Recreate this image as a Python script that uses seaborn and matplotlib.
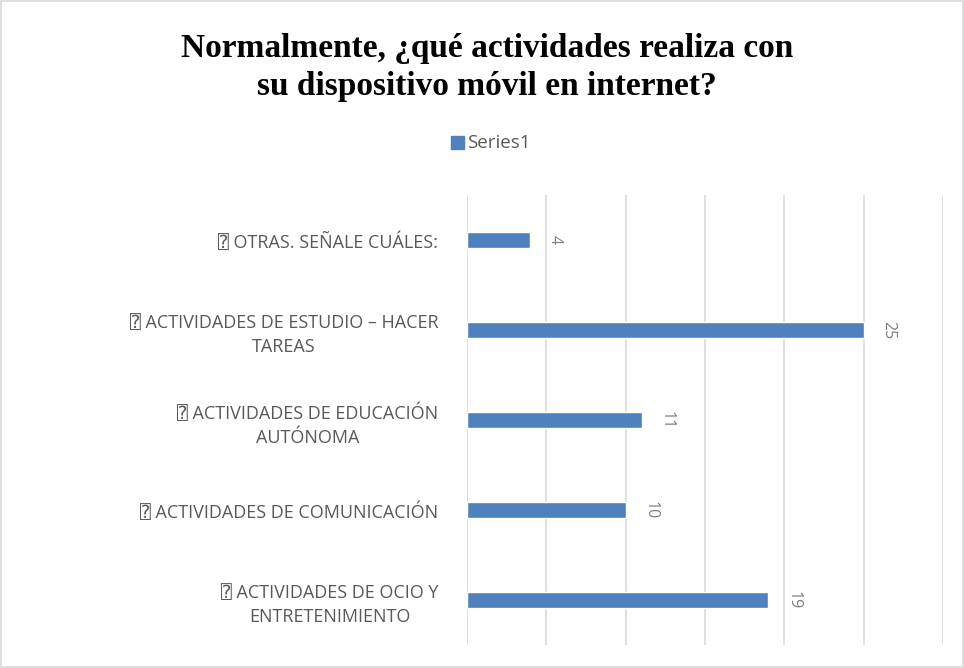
import matplotlib
matplotlib.use("Agg")
import matplotlib.pyplot as plt
import seaborn as sns
import pandas as pd
from matplotlib.patches import Rectangle

# Datos del gráfico (de arriba hacia abajo)
categorias = [
    "⍰ OTRAS. SEÑALE CUÁLES:",
    "⍰ ACTIVIDADES DE ESTUDIO – HACER\nTAREAS",
    "⍰ ACTIVIDADES DE EDUCACIÓN\nAUTÓNOMA",
    "⍰ ACTIVIDADES DE COMUNICACIÓN",
    "⍰ ACTIVIDADES DE OCIO Y\nENTRETENIMIENTO",
]
valores = [4, 25, 11, 10, 19]
serie = "Series1"
titulo = "Normalmente, ¿qué actividades realiza con\nsu dispositivo móvil en internet?"

azul = "#4F81BD"
gris_txt = "#595959"

sns.set_style("white")
plt.rcParams['font.family'] = ['Open Sans', 'DejaVu Sans', 'DejaVu Sans Mono']

df = pd.DataFrame({"categoria": categorias, "valor": valores})

fig = plt.figure(figsize=(9.64, 6.68), dpi=100)
ax = fig.add_axes([0.4844, 0.0344, 0.4938, 0.6736])

sns.barplot(data=df, x="valor", y="categoria", orient="h", color=azul,
            width=0.185, saturation=1, ax=ax)

ax.set_xlim(0, 30)
ax.set_ylim(4.5, -0.5)
ax.set_xticks(range(0, 31, 5))
ax.xaxis.grid(True, color="#D9D9D9", linewidth=1.2)
ax.set_axisbelow(True)
ax.tick_params(axis="x", bottom=False, labelbottom=False)
ax.tick_params(axis="y", left=False, pad=17)
for s in ax.spines.values():
    s.set_visible(False)
ax.set_xlabel("")
ax.set_ylabel("")

for lbl in ax.get_yticklabels():
    lbl.set_fontsize(13)
    lbl.set_color(gris_txt)
    lbl.set_multialignment("center")
    lbl.set_linespacing(1.45)

ax.bar_label(ax.containers[0], labels=[str(v) for v in valores], rotation=-90,
             padding=12, fontsize=11.5, color="#7F7F7F")

# Título
fig.text(0.505, 0.899, titulo, ha="center", va="center", fontsize=24,
         fontweight="bold", family="Liberation Serif", linespacing=1.3,
         color="black")

# Leyenda
fig.patches.append(Rectangle((0.468, 0.777), 0.0135, 0.0195, color=azul,
                             transform=fig.transFigure, figure=fig))
fig.text(0.484, 0.786, serie, ha="left", va="center", fontsize=13.5, color=gris_txt)

# Borde del área del gráfico
fig.patches.append(Rectangle((0.001, 0.001), 0.998, 0.998, fill=False,
                             edgecolor="#D9D9D9", linewidth=1.2,
                             transform=fig.transFigure, figure=fig))

fig.savefig("out.png", dpi=100)
